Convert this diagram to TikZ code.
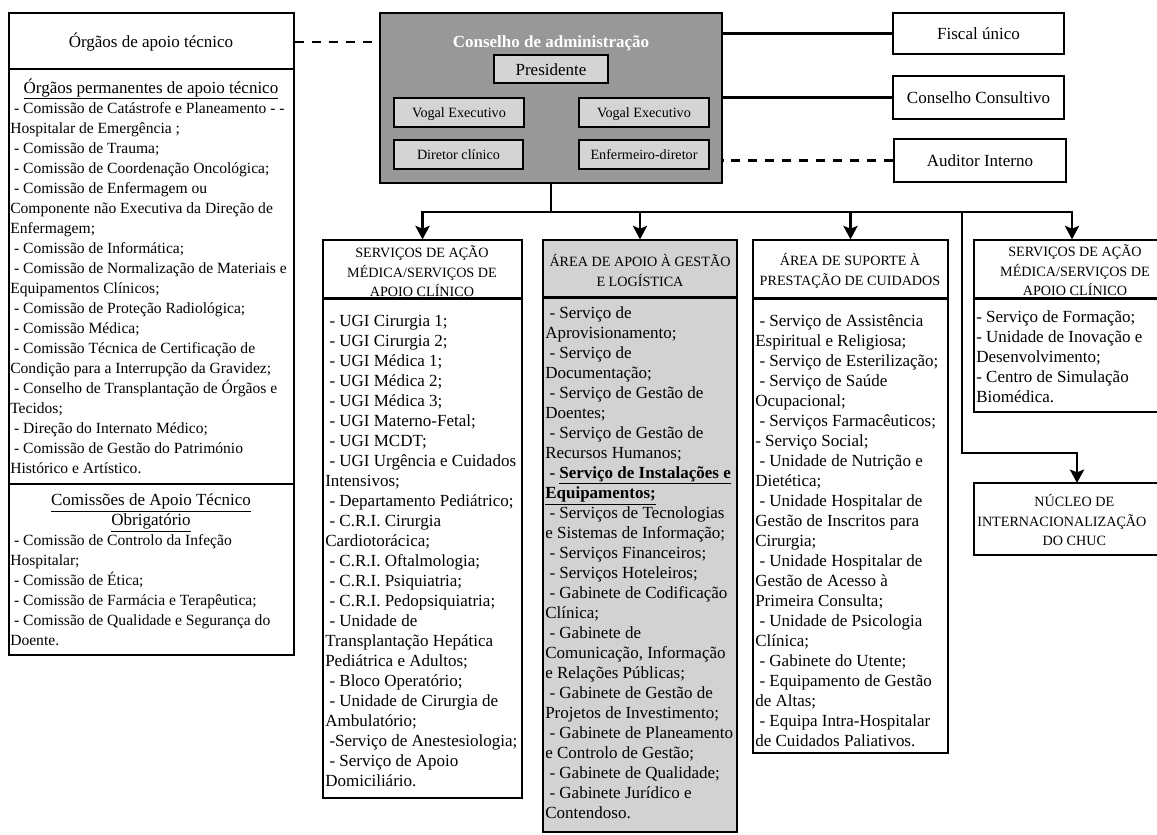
\documentclass[tikz,border=0pt]{standalone}
\usepackage{fontspec}
\setmainfont{Liberation Serif}
\usetikzlibrary{arrows.meta,fit}
\newcommand{\dsh}{\hspace*{0.25em}-\ }
% struts fixing the distance from a block's top to its first baseline
\newcommand{\tstrut}{\rule{0pt}{12pt}}
\newcommand{\cstrut}{\rule{0pt}{10pt}}
\definecolor{boardgray}{RGB}{152,152,152}
\definecolor{memberfill}{RGB}{212,212,212}
\definecolor{areafill}{RGB}{210,210,210}
\tikzset{
  box/.style={draw=black, line width=0.9pt, inner sep=0pt},
  sep/.style={draw=black, line width=1.3pt},
  member/.style={box, fill=memberfill},
  label10/.style={inner sep=0pt, anchor=base, font=\fontsize{10}{12}\selectfont},
  label12/.style={inner sep=0pt, anchor=base, font=\fontsize{12}{14}\selectfont},
  body/.style={inner sep=0pt, align=left, anchor=north west, font=\fontsize{12}{14.12}\selectfont},
  bodysm/.style={body, font=\fontsize{11}{14.12}\selectfont},
  head/.style={inner sep=0pt, align=center, anchor=base, font=\fontsize{12}{14.12}\selectfont},
  headm/.style={inner sep=0pt, align=center, anchor=north, font=\fontsize{12}{14.12}\selectfont},
  caps/.style={inner sep=0pt, align=center, anchor=north, font=\fontsize{10}{13.8}\selectfont},
  conn/.style={line width=1.8pt, line cap=rect},
  arr/.style={line width=1.8pt, -{Stealth[length=9.5pt, width=10pt, inset=2pt]}},
  dconn/.style={line width=1.7pt, dash pattern=on 6.5pt off 5.5pt},
}
\begin{document}
\begin{tikzpicture}[x=0.706pt, y=-0.706pt]
\useasboundingbox (0,0) rectangle (1157,834);
\clip (0,0) rectangle (1157,834);

% ---- technical support bodies (left column)
\node[box, fit={(9,13) (294,69)}] (apoio) {};
\node[box, fit={(9,69) (294,484)}] (perm) {};
\node[box, fit={(9,484) (294,655)}] (obrig) {};
\node[head] (apoiot) at (151,47) {Órgãos de apoio técnico};
\node[head] (permh) at (151,93) {\underline{Órgãos permanentes de apoio técnico}};
\node[bodysm] (perml) at (10,96) {\tstrut\dsh Comissão de Catástrofe e Planeamento - -\\
Hospitalar de Emergência ;\\
\dsh Comissão de Trauma;\\
\dsh Comissão de Coordenação Oncológica;\\
\dsh Comissão de Enfermagem ou\\
Componente não Executiva da Direção de\\
Enfermagem;\\
\dsh Comissão de Informática;\\
\dsh Comissão de Normalização de Materiais e\\
Equipamentos Clínicos;\\
\dsh Comissão de Proteção Radiológica;\\
\dsh Comissão Médica;\\
\dsh Comissão Técnica de Certificação de\\
Condição para a Interrupção da Gravidez;\\
\dsh Conselho de Transplantação de Órgãos e\\
Tecidos;\\
\dsh Direção do Internato Médico;\\
\dsh Comissão de Gestão do Património\\
Histórico e Artístico.};
\node[headm] (obrigh) at (151,488) {\tstrut\underline{Comissões de Apoio Técnico}\\\underline{Obrigatório}};
\node[bodysm] (obrigl) at (10,528) {\tstrut\dsh Comissão de Controlo da Infeção\\
Hospitalar;\\
\dsh Comissão de Ética;\\
\dsh Comissão de Farmácia e Terapêutica;\\
\dsh Comissão de Qualidade e Segurança do\\
Doente.};

% ---- board of directors
\node[box, fill=boardgray, fit={(380,13) (722,183)}] (cons) {};
\node[head, text=white, font=\bfseries\fontsize{12}{14}\selectfont] (const) at (551,47) {Conselho de administração};
\node[member, fit={(494,55) (608,83)}] (pres) {};
\node[member, fit={(394,98) (524,127)}] (vog1) {};
\node[member, fit={(579,98) (709,127)}] (vog2) {};
\node[member, fit={(394,140) (523,169)}] (dirc) {};
\node[member, fit={(579,140) (709,169)}] (enf) {};
\node[label12] (prest) at (551,75) {Presidente};
\node[label10] (vog1t) at (459,117) {Vogal Executivo};
\node[label10] (vog2t) at (644,117) {Vogal Executivo};
\node[label10] (dirct) at (458.5,159) {Diretor clínico};
\node[label10] (enft) at (644,159) {Enfermeiro-diretor};

% ---- bodies on the right
\node[box, fit={(893,13) (1064,54)}] (fiscal) {};
\node[box, fit={(893,76) (1064,119)}] (consult) {};
\node[box, fit={(894,139) (1066,182)}] (audit) {};
\node[label12] (fiscalt) at (978.5,39.5) {Fiscal único};
\node[label12] (consultt) at (978.5,103) {Conselho Consultivo};
\node[label12] (auditt) at (980,166) {Auditor Interno};

% ---- areas
\node[box, fit={(323,240) (522,298)}] (c1h) {};
\node[box, fit={(323,298) (522,798)}] (c1b) {};
\node[box, fill=areafill, fit={(543,240) (737,297)}] (c2h) {};
\node[box, fill=areafill, fit={(543,297) (737,832)}] (c2b) {};
\node[box, fit={(753,240) (948,298)}] (c3h) {};
\node[box, fit={(753,298) (948,753)}] (c3b) {};
\node[box, fit={(974,240) (1170,298)}] (c4h) {};
\node[box, fit={(974,298) (1170,412)}] (c4b) {};
\node[box, fit={(974,483) (1180,555)}] (nuc) {};
\draw[sep] (c1h.south west) -- (c1h.south east);
\draw[sep] (c2h.south west) -- (c2h.south east);
\draw[sep] (c3h.south west) -- (c3h.south east);
\draw[sep] (c4h.south west) -- (c4h.south east);

\node[caps] (c1t) at (422,243) {\cstrut SERVIÇOS DE AÇÃO\\MÉDICA/SERVIÇOS DE\\APOIO CLÍNICO};
\node[body] (c1l) at (325,309) {\tstrut\dsh UGI Cirurgia 1;\\
\dsh UGI Cirurgia 2;\\
\dsh UGI Médica 1;\\
\dsh UGI Médica 2;\\
\dsh UGI Médica 3;\\
\dsh UGI Materno-Fetal;\\
\dsh UGI MCDT;\\
\dsh UGI Urgência e Cuidados\\
Intensivos;\\
\dsh Departamento Pediátrico;\\
\dsh C.R.I. Cirurgia\\
Cardiotorácica;\\
\dsh C.R.I. Oftalmologia;\\
\dsh C.R.I. Psiquiatria;\\
\dsh C.R.I. Pedopsiquiatria;\\
\dsh Unidade de\\
Transplantação Hepática\\
Pediátrica e Adultos;\\
\dsh Bloco Operatório;\\
\dsh Unidade de Cirurgia de\\
Ambulatório;\\
\hspace*{0.25em}-Serviço de Anestesiologia;\\
\dsh Serviço de Apoio\\
Domiciliário.};

\node[caps] (c2t) at (640,252) {\cstrut ÁREA DE APOIO À GESTÃO\\E LOGÍSTICA};
\node[body] (c2l) at (545,301) {\tstrut\dsh Serviço de\\
Aprovisionamento;\\
\dsh Serviço de\\
Documentação;\\
\dsh Serviço de Gestão de\\
Doentes;\\
\dsh Serviço de Gestão de\\
Recursos Humanos;\\
\textbf{\hspace*{0.25em}- \underline{Serviço de Instalações e}}\\
\textbf{\underline{Equipamentos;}}\\
\dsh Serviços de Tecnologias\\
e Sistemas de Informação;\\
\dsh Serviços Financeiros;\\
\dsh Serviços Hoteleiros;\\
\dsh Gabinete de Codificação\\
Clínica;\\
\dsh Gabinete de\\
Comunicação, Informação\\
e Relações Públicas;\\
\dsh Gabinete de Gestão de\\
Projetos de Investimento;\\
\dsh Gabinete de Planeamento\\
e Controlo de Gestão;\\
\dsh Gabinete de Qualidade;\\
\dsh Gabinete Jurídico e\\
Contendoso.};

\node[caps] (c3t) at (850,251) {\cstrut ÁREA DE SUPORTE À\\PRESTAÇÃO DE CUIDADOS};
\node[body] (c3l) at (755,309) {\tstrut\dsh Serviço de Assistência\\
Espiritual e Religiosa;\\
\dsh Serviço de Esterilização;\\
\dsh Serviço de Saúde\\
Ocupacional;\\
\dsh Serviços Farmacêuticos;\\
- Serviço Social;\\
\dsh Unidade de Nutrição e\\
Dietética;\\
\dsh Unidade Hospitalar de\\
Gestão de Inscritos para\\
Cirurgia;\\
\dsh Unidade Hospitalar de\\
Gestão de Acesso à\\
Primeira Consulta;\\
\dsh Unidade de Psicologia\\
Clínica;\\
\dsh Gabinete do Utente;\\
\dsh Equipamento de Gestão\\
de Altas;\\
\dsh Equipa Intra-Hospitalar\\
de Cuidados Paliativos.};

\node[caps] (c4t) at (1075,242) {\cstrut SERVIÇOS DE AÇÃO\\MÉDICA/SERVIÇOS DE\\APOIO CLÍNICO};
\node[body] (c4l) at (976,305) {\tstrut - Serviço de Formação;\\
- Unidade de Inovação e\\
Desenvolvimento;\\
- Centro de Simulação\\
Biomédica.};

% the long word runs from the left margin; the short lines stay centred
\node[caps, align=left, anchor=north west] (nuct) at (977,492) {\cstrut\makebox[137pt][c]{NÚCLEO DE}\\INTERNACIONALIZAÇÃO\\\makebox[137pt][c]{DO CHUC}};

% ---- connectors
\draw[dconn] (apoio.east |- 0,42) -- (cons.west |- 0,42);
\draw[conn] (fiscal.west) -- (fiscal.west -| cons.east);
\draw[conn] (consult.west) -- (consult.west -| cons.east);
\draw[dconn] (audit.west) -- (audit.west -| cons.east);

\coordinate (bus) at (551,212);
\coordinate (bus4) at (1072,212);
\coordinate (tap) at (962,453);
\coordinate (nucin) at (1077,483);
\draw[conn] (cons.south) -- (bus);
\draw[conn] (c1h.north |- bus) -- (bus4);
\draw[arr] (c1h.north |- bus) -- (c1h.north);
\draw[arr] (c2h.north |- bus) -- (c2h.north);
\draw[arr] (c3h.north |- bus) -- (c3h.north);
\draw[arr] (bus4) -- (c4h.north);
\draw[arr] (tap |- bus) -- (tap) -| (nucin);
\end{tikzpicture}
\end{document}
